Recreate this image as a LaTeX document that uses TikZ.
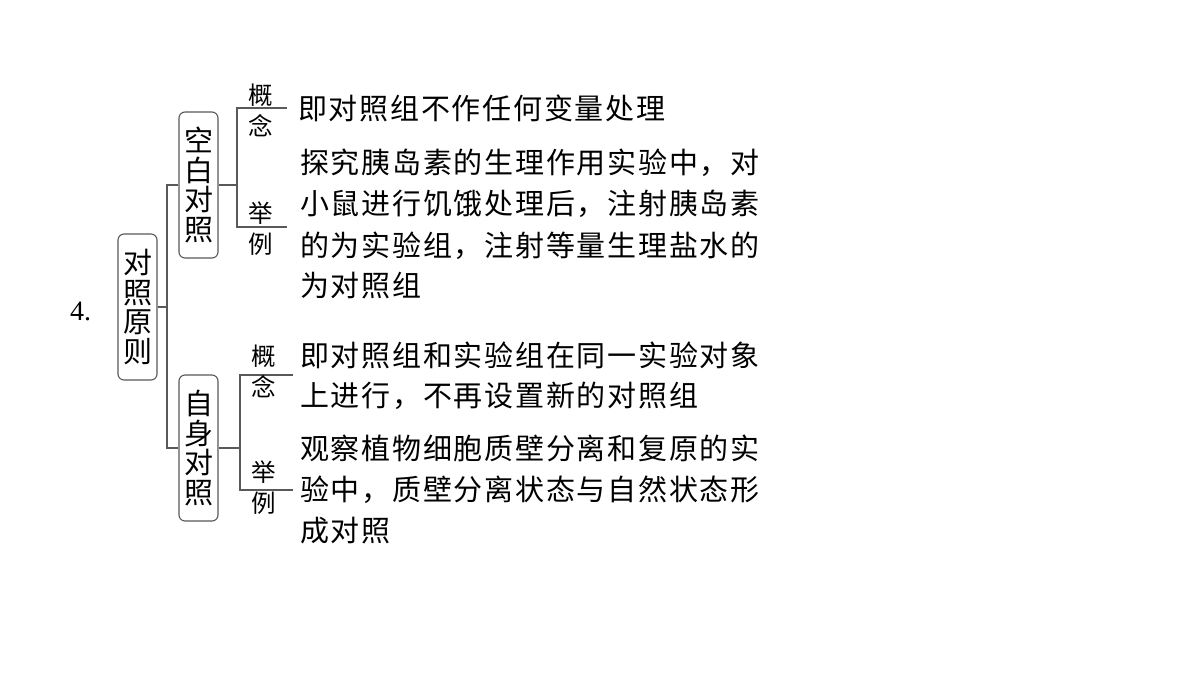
\documentclass[tikz,border=0pt]{standalone}
\usepackage{fontspec}
\newfontfamily\cjk[LetterSpace=6]{Noto Sans CJK SC}
\newfontfamily\cjkbox{Noto Sans CJK SC}
\newfontfamily\numfont{Liberation Serif}
\begin{document}
\begin{tikzpicture}[x=1pt,y=-1pt,
  conn/.style={draw=black!65,line width=1.3pt},
  box/.style={draw=black!65,line width=1.1pt,rounded corners=6pt,minimum width=39pt,minimum height=146pt,inner sep=0pt,align=center,font=\cjkbox\fontsize{29}{29.5}\selectfont},
  lab/.style={inner sep=0pt,align=center,font=\cjkbox\fontsize{24.5}{31}\selectfont},
  line/.style={anchor=base west,inner sep=0pt,font=\cjk\fontsize{29}{41}\selectfont}]
\useasboundingbox (0,0) rectangle (1200,675);
\fill[white] (0,0) rectangle (1200,675);
\node[anchor=base west,inner sep=0pt,font=\numfont\fontsize{28}{30}\selectfont] (num) at (70,320) {4.};
\node[box] (m) at (137.5,307) {对\\照\\原\\则};
\node[box] (b1) at (198.5,185) {空\\白\\对\\照};
\node[box] (b2) at (198.5,448) {自\\身\\对\\照};
\coordinate (j1) at (167,307);
\coordinate (k1) at (237,185);
\coordinate (k2) at (240,448);
\coordinate (c1a) at (287,108);
\coordinate (c1b) at (287,227);
\coordinate (c2a) at (293,375);
\coordinate (c2b) at (293,490);
\draw[conn] (m.east) -- (j1);
\draw[conn] (b1.west) -| (j1) |- (b2.west);
\draw[conn] (b1.east) -- (k1);
\draw[conn] (c1a) -| (k1) |- (c1b);
\draw[conn] (b2.east) -- (k2);
\draw[conn] (c2a) -| (k2) |- (c2b);
\node[lab] (l1) at (261,110) {概\\念};
\node[lab] (l2) at (261,229) {举\\例};
\node[lab] (l3) at (264,371) {概\\念};
\node[lab] (l4) at (264,488) {举\\例};
\node[line] (t1) at (298,119) {即对照组不作任何变量处理};
\node[line] (t2) at (300,173) {探究胰岛素的生理作用实验中，对};
\node[line] (t3) at (300,214) {小鼠进行饥饿处理后，注射胰岛素};
\node[line] (t4) at (300,256) {的为实验组，注射等量生理盐水的};
\node[line] (t5) at (300,296) {为对照组};
\node[line] (s1) at (300,366) {即对照组和实验组在同一实验对象};
\node[line] (s2) at (300,406) {上进行，不再设置新的对照组};
\node[line] (s3) at (300,459) {观察植物细胞质壁分离和复原的实};
\node[line] (s4) at (300,500) {验中，质壁分离状态与自然状态形};
\node[line] (s5) at (300,541) {成对照};
\end{tikzpicture}
\end{document}
